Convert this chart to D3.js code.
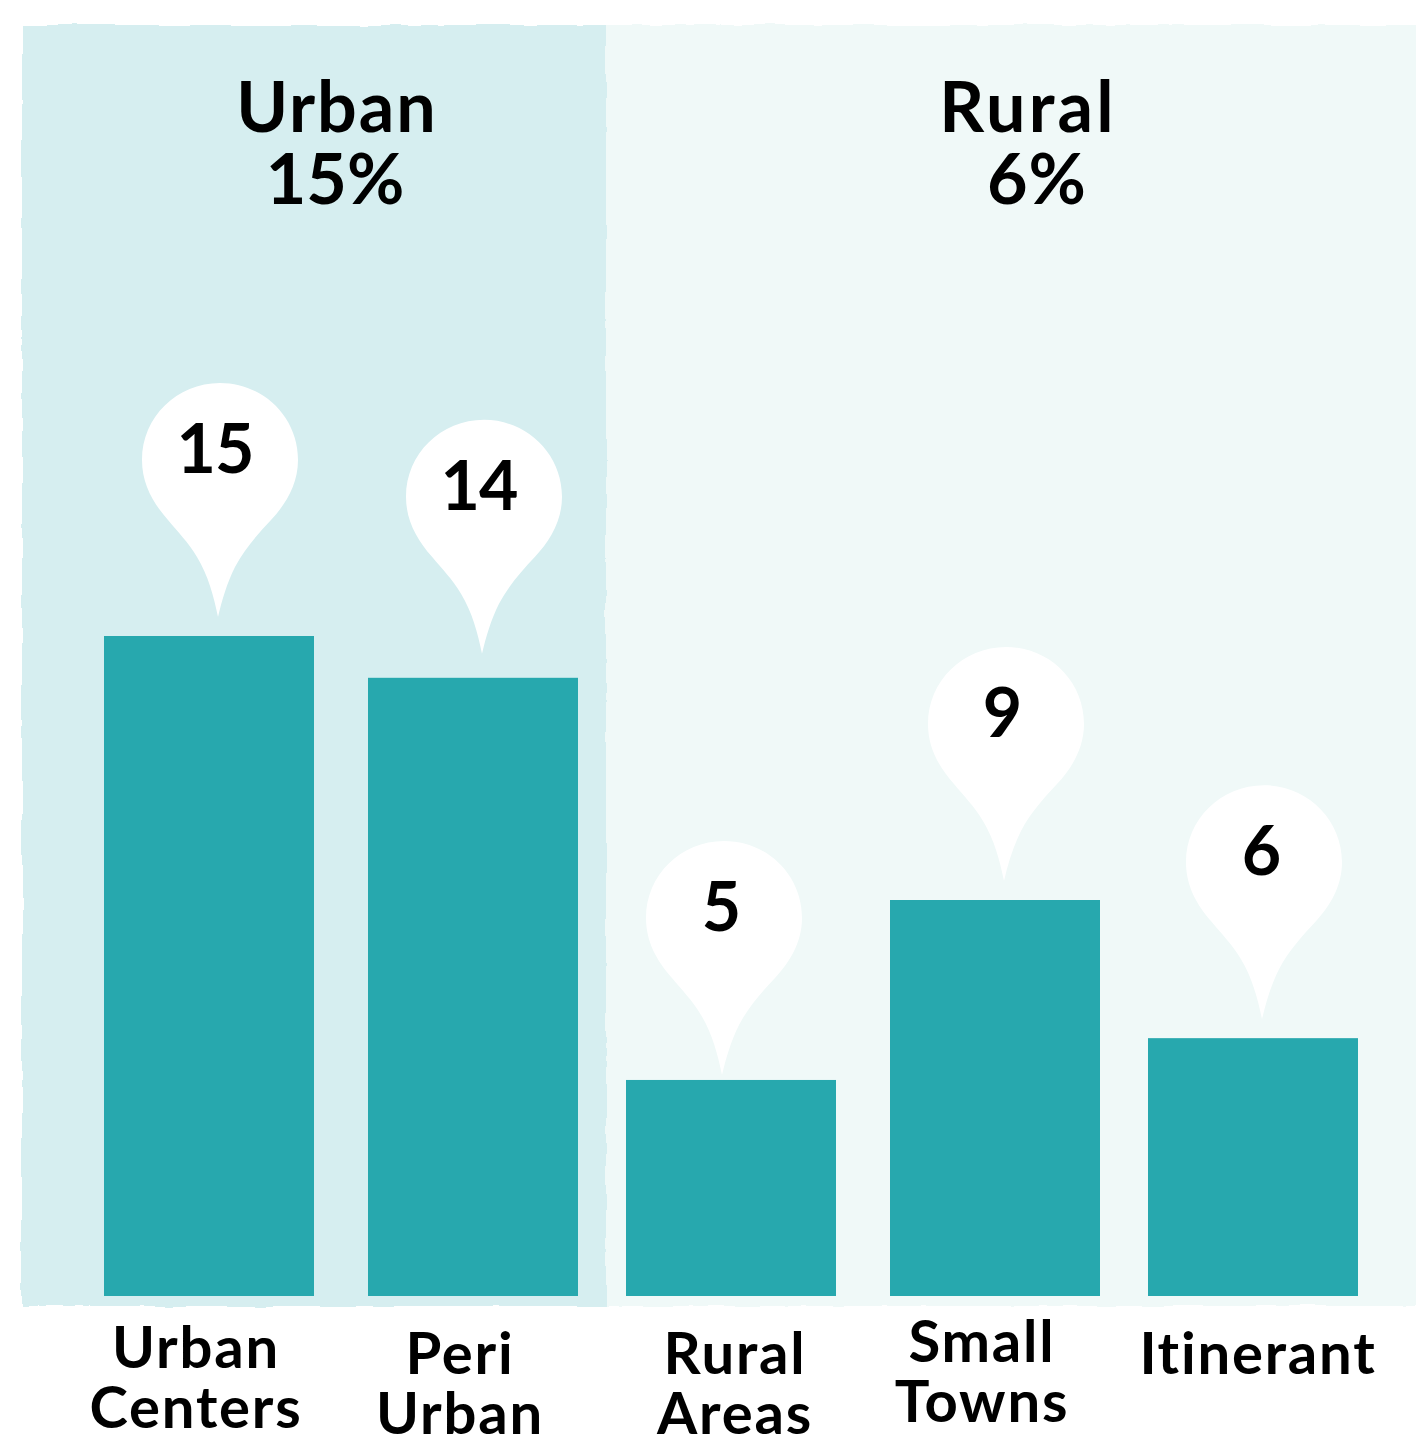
<!DOCTYPE html>
<html><head><meta charset="utf-8">
<script src="https://cdnjs.cloudflare.com/ajax/libs/d3/7.8.5/d3.min.js"></script>
<style>html,body{margin:0;padding:0;background:#fff}svg{display:block}
text{font-family:Lato,"Open Sans",sans-serif;font-weight:700;fill:#000;text-anchor:middle;font-variant-ligatures:none}</style>
</head><body><svg id="c" width="1416" height="1439"></svg>
<script>
const categories = ["Urban Centers","Peri Urban","Rural Areas","Small Towns","Itinerant"];
const barValues = [15, 14.05, 4.91, 9, 5.86];
const valueLabels = ["15","14","5","9","6"];
const categoryLines = [["Urban","Centers"],["Peri","Urban"],["Rural","Areas"],["Small","Towns"],["Itinerant"]];
const groupNames = ["Urban","Rural"];
const groupShares = ["15%","6%"];

const W=1416,H=1439, base=1296;
const svg=d3.select("#c");
const x=d3.scaleBand().domain(categories).range([104,1358]).paddingInner(51/261).paddingOuter(0);
const y=d3.scaleLinear().domain([0,15]).range([base,636]);
const barNudge=[0,3,0,3,0];
const pinDx=[9,9,-9,9,9], pinGap=[19,24,5,19,19];
const labelDx=[-3,-3,-1,-2,-1];            // offset of value text from the pin tip
const catCx=[196,460,735,982,1258], catBase=[1368,1374,1374,1362,1374];
const pinPath="M0,0 C-4,-20 -10,-42 -21,-60 C-30,-75 -40,-85 -50,-97 C-65,-114 -76,-133 -76,-157 C-76,-200 -41,-234 2,-234 C45,-234 80,-200 80,-157 C80,-133 68,-113 53,-97 C40,-83 27,-69 17,-50 C9,-34 4,-17 0,0 Z";

const defs=svg.append("defs");
const f=defs.append("filter").attr("id","rough").attr("x","-2%").attr("y","-2%").attr("width","104%").attr("height","104%");
f.append("feTurbulence").attr("type","fractalNoise").attr("baseFrequency","0.025").attr("numOctaves",3).attr("seed",4).attr("result","n");
f.append("feDisplacementMap").attr("in","SourceGraphic").attr("in2","n").attr("scale",5);

const panels=[{x:606,w:830,c:"#f0f9f8"},{x:22,w:584,c:"#d6eef0"}];
svg.append("g").attr("filter","url(#rough)").selectAll("rect").data(panels).join("rect")
  .attr("x",d=>d.x).attr("y",25).attr("width",d=>d.w).attr("height",1281).attr("fill",d=>d.c);

const barX=(c,i)=>x(c)+barNudge[i];
svg.append("g").selectAll("rect").data(categories).join("rect")
  .attr("x",barX).attr("y",(c,i)=>y(barValues[i])).attr("width",x.bandwidth())
  .attr("height",(c,i)=>base-y(barValues[i])).attr("fill","#27a8ae");

const tip=(c,i)=>[barX(c,i)+x.bandwidth()/2+pinDx[i], y(barValues[i])-pinGap[i]];
const pins=svg.append("g").selectAll("g").data(categories).join("g")
  .attr("transform",(c,i)=>`translate(${tip(c,i)})`);
pins.append("path").attr("d",pinPath).attr("fill","#fff");
pins.append("text").attr("x",(c,i)=>labelDx[i]).attr("y",-144).attr("font-size",68).attr("letter-spacing",-1).text((c,i)=>valueLabels[i]);

const groupCx=[[337,335],[1028,1037]];
groupNames.forEach((g,i)=>{
  svg.append("text").attr("x",groupCx[i][0]).attr("y",132).attr("font-size",70).attr("letter-spacing",i?3.2:2).text(g);
  svg.append("text").attr("x",groupCx[i][1]).attr("y",204).attr("font-size",70).attr("letter-spacing",i?1:0).text(groupShares[i]);
});

categoryLines.forEach((lines,i)=>{
  lines.forEach((t,j)=>{
    svg.append("text").attr("x",catCx[i]).attr("y",catBase[i]+j*60).attr("font-size",58).attr("letter-spacing",1.8).text(t);
  });
});
</script></body></html>
